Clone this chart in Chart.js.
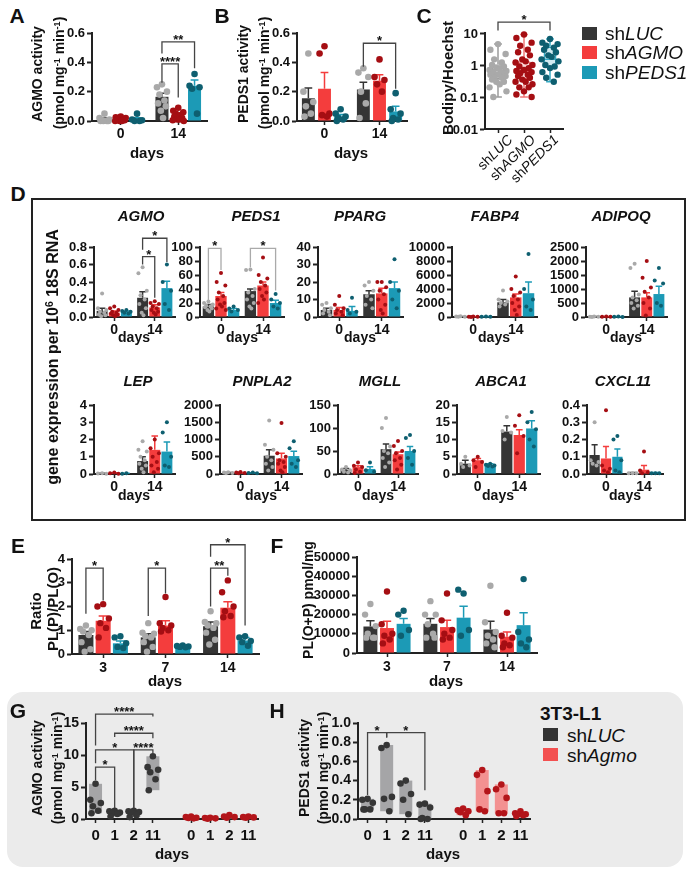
<!DOCTYPE html>
<html>
<head>
<meta charset="utf-8">
<script src="https://cdn.jsdelivr.net/npm/chart.js@4.4.1/dist/chart.umd.min.js"></script>
<style>
  body { margin: 0; width: 692px; height: 873px; position: relative; overflow: hidden; background: #fff;
         font-family: "Liberation Sans", Arial, Helvetica, sans-serif; color: #111; }
  canvas { position: absolute; }
  sup { font-size: 0.65em; vertical-align: 0.45em; line-height: 0; }
</style>
</head>
<body>
<div style="position:absolute;left:7px;top:692px;width:676px;height:175px;border-radius:16px;background:#ebebeb"></div>
<div style="position:absolute;left:31px;top:198px;width:655px;height:323px;box-sizing:border-box;border:2px solid #222"></div>
<script>
// ---- groups and colours
const groups = ['shLUC', 'shAGMO', 'shPEDS1'];
const barColors = ['#353535', '#f43d3d', '#1c9ab6'];
const dotColors = ['#a9a9a9', '#a50e13', '#0e5f70'];
const days2 = ['0', '14'];
const days3 = ['3', '7', '14'];

// ---- A  AGMO activity
const aTicks = [0, 0.2, 0.4, 0.6];
const aBar = [[0.01, 0.165], [0.01, 0.03], [0.012, 0.24]];
const aErr = [[0.02, 0.19], [0.015, 0.045], [0.022, 0.28]];
const aDots = [
  [[0.05, 0.02, 0.01, 0.005, 0, 0, 0, 0], [0.25, 0.23, 0.2, 0.18, 0.14, 0.12, 0.1, 0.07, 0.02]],
  [[0.03, 0.025, 0.02, 0.015, 0.01, 0.01, 0.005, 0, 0, 0], [0.09, 0.07, 0.06, 0.05, 0.04, 0.03, 0.02, 0.01, 0.01, 0.005, 0]],
  [[0.05, 0.01, 0.005, 0, 0], [0.32, 0.24, 0.23, 0.22, 0.05]]
];
const aBrackets = [
  { a: [0, 1], b: [1, 1], y: 0.39, ya: 0.26, yb: 0.16, t: '****' },
  { a: [0, 1], b: [2, 1], y: 0.54, ya: 0.46, yb: 0.36, t: '**' }
];

// ---- B  PEDS1 activity
const bTicks = [0, 0.2, 0.4, 0.6];
const bBar = [[0.155, 0.215], [0.22, 0.275], [0.03, 0.065]];
const bErr = [[0.225, 0.265], [0.33, 0.315], [0.045, 0.1]];
const bDots = [
  [[0.46, 0.2, 0.13, 0.1, 0.05, 0.03], [0.36, 0.33, 0.3, 0.2, 0.12, 0.02]],
  [[0.51, 0.46, 0.05, 0.04, 0.03], [0.42, 0.3, 0.28, 0.25, 0.2]],
  [[0.08, 0.05, 0.03, 0.02, 0.01, 0], [0.19, 0.08, 0.05, 0.02, 0.01, 0]]
];
const bBrackets = [{ a: [0, 1], b: [2, 1], y: 0.53, ya: 0.37, yb: 0.22, t: '*' }];

// ---- C  Bodipy/Hoechst (box plot, log axis)
const cTicks = [0.01, 0.1, 1, 10];
const cBox = [[0.35, 1.05], [0.35, 1.3], [0.8, 3.8]];
const cWhisk = [[0.1, 0.55, 4.5], [0.1, 0.6, 9], [0.3, 1.5, 6.5]];
const cDots = [
  [4.5, 3.0, 2.2, 1.5, 1.2, 1.0, 0.9, 0.8, 0.75, 0.7, 0.65, 0.6, 0.55, 0.5, 0.5, 0.45, 0.4, 0.4, 0.35, 0.3, 0.3, 0.25, 0.2, 0.15, 0.1],
  [9, 7, 5, 4, 3, 2.5, 2, 1.5, 1.3, 1.2, 1.0, 0.9, 0.8, 0.7, 0.65, 0.6, 0.55, 0.5, 0.45, 0.4, 0.35, 0.3, 0.3, 0.25, 0.2, 0.2, 0.15, 0.12, 0.1],
  [6.5, 5, 4.5, 4, 3.5, 3, 2.5, 2, 1.8, 1.5, 1.3, 1.0, 0.9, 0.8, 0.6, 0.5, 0.4, 0.3]
];
const cBrackets = [{ a: [0, 0], b: [0, 2], y: 22, ya: 12, yb: 12, t: '*' }];

// ---- D  gene expression
const agmoTicks = [0, 0.2, 0.4, 0.6, 0.8];
const agmoBar = [[0.07, 0.22], [0.05, 0.11], [0.06, 0.33]];
const agmoErr = [[0.1, 0.29], [0.07, 0.14], [0.07, 0.41]];
const agmoDots = [
  [[0.27, 0.1, 0.08, 0.06, 0.05, 0.03, 0.02, 0.01], [0.57, 0.5, 0.3, 0.25, 0.2, 0.15, 0.1, 0.05, 0.02]],
  [[0.12, 0.1, 0.08, 0.06, 0.05, 0.04, 0.03, 0.02, 0.01], [0.18, 0.16, 0.15, 0.12, 0.1, 0.08, 0.06, 0.05, 0.03]],
  [[0.08, 0.07, 0.06, 0.05, 0.04], [0.6, 0.4, 0.3, 0.15, 0.08]]
];
const agmoBrackets = [
  { a: [0, 1], b: [1, 1], y: 0.69, ya: 0.6, yb: 0.22, t: '*' },
  { a: [0, 1], b: [2, 1], y: 0.9, ya: 0.77, yb: 0.63, t: '*' }
];
const peds1Ticks = [0, 20, 40, 60, 80, 100];
const peds1Bar = [[15, 37], [30, 45], [10, 20]];
const peds1Err = [[18, 40], [35, 50], [12, 24]];
const peds1Dots = [
  [[22, 20, 18, 16, 15, 14, 12, 10, 8], [68, 67, 40, 35, 30, 25, 20, 15, 12]],
  [[63, 50, 45, 35, 30, 25, 20, 18, 15, 12, 10], [85, 60, 55, 50, 45, 40, 35, 30, 25, 20]],
  [[15, 12, 10, 8], [33, 25, 20, 15, 12]]
];
const peds1Brackets = [
  { a: [0, 0], b: [1, 0], y: 98, ya: 21, yb: 67, t: '*', c: '#aaa' },
  { a: [0, 1], b: [2, 1], y: 98, ya: 71, yb: 38, t: '*', c: '#aaa' }
];
const ppargTicks = [0, 10, 20, 30, 40];
const ppargBar = [[4, 13], [4, 13.5], [3.5, 16.5]];
const ppargErr = [[5, 15], [5.5, 16.5], [6, 20]];
const ppargDots = [
  [[8, 7, 5, 4, 3, 2, 1], [20, 18, 15, 12, 10, 7, 5]],
  [[12, 7, 5, 4, 3, 2, 1], [20, 20, 17, 15, 13, 10, 7, 4, 2]],
  [[11, 4, 3, 2], [33, 20, 15, 10, 5]]
];
const fabp4Ticks = [0, 2000, 4000, 6000, 8000, 10000];
const fabp4Bar = [[60, 2100], [50, 2800], [40, 3400]];
const fabp4Err = [[80, 2500], [70, 3300], [60, 5000]];
const fabp4Dots = [
  [[100, 60, 40, 20], [3800, 2500, 2200, 2000, 1800, 1500]],
  [[80, 50, 30, 10], [5800, 4000, 3500, 3000, 2500, 2000, 1500, 1000, 300]],
  [[60, 40, 20], [9000, 4000, 2500, 1500, 1000]]
];
const adipoqTicks = [0, 500, 1000, 1500, 2000, 2500];
const adipoqBar = [[10, 700], [10, 700], [10, 820]];
const adipoqErr = [[15, 920], [15, 870], [15, 1100]];
const adipoqDots = [
  [[20, 10, 5, 0], [1900, 1750, 800, 700, 600, 500, 400, 300]],
  [[20, 10, 5], [2000, 1400, 1050, 900, 700, 500, 300, 50]],
  [[20, 10, 0], [1750, 1300, 1200, 500, 400]]
];
const lepTicks = [0, 1, 2, 3, 4];
const lepBar = [[0.03, 0.75], [0.05, 1.4], [0.03, 1.3]];
const lepErr = [[0.04, 1.0], [0.07, 2.2], [0.04, 1.85]];
const lepDots = [
  [[0.05, 0.03, 0.02], [1.9, 1.4, 1.3, 1.0, 0.8, 0.6, 0.5, 0.3, 0.1]],
  [[0.08, 0.05, 0.02], [2.0, 1.5, 1.2, 1.0, 0.7, 0.5, 0.3, 0.1]],
  [[0.04, 0.02], [3.0, 2.4, 1.0, 0.5, 0.4]]
];
const pnpla2Ticks = [0, 500, 1000, 1500, 2000];
const pnpla2Bar = [[30, 530], [35, 450], [25, 520]];
const pnpla2Err = [[40, 700], [45, 600], [35, 660]];
const pnpla2Dots = [
  [[50, 40, 30, 20], [1550, 850, 700, 500, 400, 300, 200, 100]],
  [[60, 40, 30, 20], [1480, 600, 500, 400, 350, 300, 200, 100, 50]],
  [[40, 30, 20], [950, 750, 400, 300, 200]]
];
const mgllTicks = [0, 50, 100, 150];
const mgllBar = [[9, 54], [15, 43], [11, 50]];
const mgllErr = [[12, 65], [18, 48], [16, 60]];
const mgllDots = [
  [[15, 10, 8, 5, 3], [122, 100, 60, 50, 45, 35, 25, 15]],
  [[25, 18, 15, 10, 5, 2], [72, 61, 50, 45, 35, 30, 20, 10]],
  [[25, 8, 5], [85, 78, 50, 35, 20]]
];
const abca1Ticks = [0, 5, 10, 15, 20];
const abca1Bar = [[3, 12.3], [4, 11.3], [2.5, 13.2]];
const abca1Err = [[4, 14], [4.5, 12.8], [3, 15.4]];
const abca1Dots = [
  [[5, 3, 2.5, 2], [16.5, 12.5, 12, 10]],
  [[5, 4, 3.5, 2], [17, 14, 11, 6]],
  [[3, 2.7, 2.5, 2.3, 2.2], [18, 15, 13, 10, 8]]
];
const cxcl11Ticks = [0, 0.1, 0.2, 0.3, 0.4];
const cxcl11Bar = [[0.11, 0.005], [0.09, 0.025], [0.1, 0.005]];
const cxcl11Err = [[0.17, 0.008], [0.16, 0.05], [0.145, 0.008]];
const cxcl11Dots = [
  [[0.3, 0.08, 0.07, 0.06, 0.05], [0.005, 0.005, 0.005]],
  [[0.37, 0.05, 0.03, 0.02, 0.01], [0.13, 0.02, 0.01, 0.005]],
  [[0.22, 0.2, 0.08, 0.02, 0.01], [0.005, 0.005, 0.005]]
];

// ---- E  PL(P)/PL(O)
const eTicks = [0, 1, 2, 3, 4];
const eBar = [[0.8, 0.7, 1.17], [1.4, 1.2, 1.95], [0.45, 0.3, 0.57]];
const eErr = [[0.95, 0.85, 1.35], [1.6, 1.4, 2.2], [0.55, 0.35, 0.7]];
const eDots = [
  [[1.2, 1.05, 1.0, 0.95, 0.8, 0.5, 0.2, 0.1], [1.3, 0.9, 0.85, 0.75, 0.7, 0.5, 0.3, 0.1], [1.8, 1.35, 1.3, 1.2, 1.1, 0.9, 0.6, 0.4]],
  [[2.1, 2.0, 1.5, 1.3, 1.1, 0.7], [2.4, 1.3, 1.2, 1.1, 1.0, 0.95], [3.1, 2.6, 2.0, 1.8, 1.6, 1.55]],
  [[0.75, 0.7, 0.45, 0.3, 0.25], [0.36, 0.34, 0.32, 0.3, 0.28], [0.75, 0.7, 0.55, 0.5, 0.35]]
];
const eBrackets = [
  { a: [0, 0], b: [1, 0], y: 3.62, ya: 1.7, yb: 2.25, t: '*' },
  { a: [0, 1], b: [1, 1], y: 3.62, ya: 1.6, yb: 2.55, t: '*' },
  { a: [0, 2], b: [1, 2], y: 3.62, ya: 2.0, yb: 3.3, t: '**' },
  { a: [0, 2], b: [2, 2], y: 4.6, ya: 4.1, yb: 1.2, t: '*' }
];

// ---- F  PL(O+P)
const fTicks = [0, 10000, 20000, 30000, 40000, 50000];
const fBar = [[13800, 15200, 12200], [13000, 13500, 8500], [15200, 18400, 14500]];
const fErr = [[16800, 18000, 16500], [16500, 17000, 11000], [18000, 24300, 21000]];
const fDots = [
  [[25500, 20000, 14000, 10000, 8000, 8000, 8000], [27000, 20000, 20000, 15000, 10000, 8000, 8000], [35000, 16000, 11000, 9000, 7000, 5000, 3000]],
  [[32000, 15000, 10000, 9000, 7000, 5000], [31000, 17000, 12000, 10000, 8000, 7000], [21000, 9000, 8000, 5000, 4000, 3000]],
  [[22000, 20000, 12000, 9000], [31000, 33000, 12000, 9000], [38500, 11000, 7000, 5000, 3000]]
];

// ---- G / H  3T3-L1
const ghDays = ['0', '1', '2', '11', '', '0', '1', '2', '11'];
const gTicks = [0, 5, 10, 15];
const gLucRange = [[0.9, 5.5], [0.4, 1.3], [0.3, 1.3], [4.5, 9.8]];
const gAgmoRange = [[0.05, 0.4], [0.05, 0.2], [0.1, 0.6], [0.1, 0.4]];
const gLucDots = [[5.5, 3.0, 2.5, 2.0, 1.3, 0.9], [1.3, 1.2, 1.0, 0.9, 0.8, 0.4], [1.3, 1.2, 1.1, 1.0, 0.6, 0.3], [9.8, 8.1, 7.7, 7.3, 6.2, 4.5]];
const gAgmoDots = [[0.4, 0.3, 0.2, 0.15, 0.1], [0.2, 0.15, 0.1, 0.05], [0.6, 0.4, 0.3, 0.2], [0.4, 0.3, 0.25, 0.2]];
const gBrackets = [
  { a: [0, 0], b: [0, 1], y: 8.1, ya: 6.0, yb: 1.7, t: '*' },
  { a: [0, 0], b: [0, 2], y: 10.8, ya: 8.7, yb: 1.7, t: '*' },
  { a: [0, 2], b: [0, 3], y: 10.8, ya: 1.7, yb: 10.3, t: '****' },
  { a: [0, 1], b: [0, 3], y: 13.4, ya: 12.8, yb: 12.6, t: '****' },
  { a: [0, 0], b: [0, 3], y: 16.4, ya: 11.5, yb: 16.0, t: '****' }
];
const hTicks = [0, 0.2, 0.4, 0.6, 0.8, 1.0];
const hLucRange = [[0.1, 0.21], [0.08, 0.77], [0.05, 0.4], [0.0, 0.16]];
const hAgmoRange = [[0.04, 0.11], [0.08, 0.51], [0.06, 0.36], [0.03, 0.08]];
const hLucDots = [[0.21, 0.2, 0.17, 0.1, 0.1, 0.1], [0.77, 0.74, 0.23, 0.21, 0.08], [0.4, 0.37, 0.26, 0.2, 0.05], [0.16, 0.15, 0.12, 0.01, 0.0, 0.0]];
const hAgmoDots = [[0.11, 0.09, 0.08, 0.07, 0.04], [0.51, 0.46, 0.29, 0.1, 0.08], [0.36, 0.31, 0.22, 0.06, 0.06], [0.08, 0.06, 0.05, 0.05, 0.04, 0.03]];
const hBrackets = [
  { a: [0, 0], b: [0, 1], y: 0.9, ya: 0.25, yb: 0.85, t: '*' },
  { a: [0, 1], b: [0, 3], y: 0.9, ya: 0.85, yb: 0.3, t: '*' }
];

// ---------------------------------------------------------------
const FONT = '"Liberation Sans", Arial, Helvetica, sans-serif';
const AX = '#222';
const PAD_T = 60, PAD_R = 8, Y_W = 50, X_H = 26;
const JIT = [0, -0.9, 0.9, -0.45, 0.45, -0.7, 0.7, -0.2, 0.2, -1, 1, -0.55, 0.55];
Chart.defaults.font.family = FONT;
Chart.defaults.color = '#111';
Chart.defaults.animation = false;

// error bars, dots, box whiskers and significance brackets
const marks = {
  id: 'marks',
  afterDatasetsDraw(chart) {
    const mk = chart.canvas.mk || {};
    const ctx = chart.ctx, ys = chart.scales.y;
    const py = v => ys.getPixelForValue(v);
    ctx.save();
    chart.data.datasets.forEach((ds, i) => {
      const meta = chart.getDatasetMeta(i);
      meta.data.forEach((el, j) => {
        const v = ds.data[j];
        if (v == null) return;
        const bw = el.width;
        if (ds.err && ds.err[j] > v) {
          ctx.strokeStyle = ds.backgroundColor; ctx.lineWidth = 1.5;
          ctx.beginPath();
          ctx.moveTo(el.x, py(v)); ctx.lineTo(el.x, py(ds.err[j]));
          ctx.moveTo(el.x - bw * 0.3, py(ds.err[j])); ctx.lineTo(el.x + bw * 0.3, py(ds.err[j]));
          ctx.stroke();
        }
        if (ds.whisk) {
          const [lo, med, hi] = ds.whisk[j];
          ctx.strokeStyle = ds.borderColor[j]; ctx.lineWidth = 1.5;
          ctx.beginPath();
          ctx.moveTo(el.x, py(v[0])); ctx.lineTo(el.x, py(lo));
          ctx.moveTo(el.x, py(v[1])); ctx.lineTo(el.x, py(hi));
          ctx.moveTo(el.x - bw * 0.3, py(lo)); ctx.lineTo(el.x + bw * 0.3, py(lo));
          ctx.moveTo(el.x - bw * 0.3, py(hi)); ctx.lineTo(el.x + bw * 0.3, py(hi));
          ctx.moveTo(el.x - bw / 2, py(med)); ctx.lineTo(el.x + bw / 2, py(med));
          ctx.stroke();
        }
        if (ds.dots && ds.dots[j]) {
          ctx.fillStyle = Array.isArray(ds.dotColor) ? ds.dotColor[j] : ds.dotColor;
          ds.dots[j].forEach((d, k) => {
            const off = JIT[k % JIT.length] * bw / 2 * (mk.sp || 0.85);
            ctx.beginPath();
            ctx.arc(el.x + off, py(d), mk.r || 3, 0, Math.PI * 2);
            ctx.fill();
          });
        }
      });
    });
    (mk.br || []).forEach(b => {
      const x1 = chart.getDatasetMeta(b.a[0]).data[b.a[1]].x;
      const x2 = chart.getDatasetMeta(b.b[0]).data[b.b[1]].x;
      const yt = py(b.y);
      ctx.strokeStyle = b.c || '#444'; ctx.lineWidth = 1.3;
      ctx.beginPath();
      ctx.moveTo(x1, py(b.ya)); ctx.lineTo(x1, yt); ctx.lineTo(x2, yt); ctx.lineTo(x2, py(b.yb));
      ctx.stroke();
      ctx.fillStyle = '#111'; ctx.font = 'bold 13px ' + FONT;
      ctx.textAlign = 'center'; ctx.textBaseline = 'bottom';
      ctx.fillText(b.t, (x1 + x2) / 2, yt + 5);
    });
    ctx.restore();
  }
};

function yAxis(ticks, fmt, size) {
  return {
    type: 'linear', min: ticks[0], max: ticks[ticks.length - 1],
    afterFit: s => { s.width = Y_W; },
    afterBuildTicks: s => { s.ticks = ticks.map(v => ({ value: v })); },
    border: { display: true, color: AX, width: 2 },
    grid: { drawOnChartArea: false, drawTicks: true, tickLength: 5, tickColor: AX, tickWidth: 2 },
    ticks: { color: '#111', font: { size: size || 13, weight: 'bold' }, padding: 2, autoSkip: false,
      callback: typeof fmt === 'function' ? fmt : v => Number(v).toFixed(fmt) }
  };
}

function xAxis(size, pad, show) {
  return {
    afterFit: s => { s.height = X_H; },
    border: { display: true, color: AX, width: 2 },
    grid: { offset: false, drawOnChartArea: false, drawTicks: true, tickLength: 4, tickWidth: 1.5,
      tickColor: c => (c.tick && c.tick.label === '') ? 'rgba(0,0,0,0)' : AX },
    ticks: { display: show !== false, color: '#111', font: { size: size || 14, weight: 'bold' },
      padding: pad || 1, maxRotation: 0, autoSkip: false }
  };
}

// canvas placed so that the plot area lands on box = [left, right, topTick, zero]
function canvasAt(box, mk) {
  const [aL, aR, yT, yB] = box;
  const c = document.createElement('canvas');
  const left = aL - Y_W, top = yT - PAD_T;
  c.width = aR - left + PAD_R;
  c.height = yB - top + X_H;
  c.style.left = left + 'px';
  c.style.top = top + 'px';
  c.mk = mk || {};
  document.body.appendChild(c);
  return c;
}

function baseOptions(x, y) {
  return {
    responsive: false, animation: false,
    layout: { padding: { top: PAD_T, right: PAD_R, left: 0, bottom: 0 } },
    plugins: { legend: { display: false }, tooltip: { enabled: false } },
    scales: { x, y }
  };
}

function barChart(box, labels, bars, errs, dots, ticks, dec, o) {
  const c = canvasAt(box, { r: o.r, sp: o.sp, br: o.br });
  new Chart(c, {
    type: 'bar',
    data: {
      labels,
      datasets: bars.map((b, i) => ({
        label: groups[i], data: b, backgroundColor: barColors[i],
        err: errs[i], dots: dots[i], dotColor: dotColors[i],
        barPercentage: o.bp, categoryPercentage: o.cp
      }))
    },
    options: baseOptions(xAxis(o.xs, o.tp), yAxis(ticks, dec, o.ys)),
    plugins: [marks]
  });
}

function rangeChart(box, ranges, dots, ticks, dec, br) {
  const c = canvasAt(box, { r: 3.3, sp: 0.9, br });
  const none = [null, null, null, null, null];
  new Chart(c, {
    type: 'bar',
    data: {
      labels: ghDays,
      datasets: [
        { label: 'shLUC', data: [...ranges[0], ...none], backgroundColor: '#a5a5a7', dots: [...dots[0], ...none],
          dotColor: '#363636', grouped: false, barPercentage: 0.68, categoryPercentage: 1 },
        { label: 'shAgmo', data: [...none, ...ranges[1]], backgroundColor: '#f39191', dots: [...none, ...dots[1]],
          dotColor: '#b3151a', grouped: false, barPercentage: 0.68, categoryPercentage: 1 }
      ]
    },
    options: baseOptions(xAxis(15, 4), yAxis(ticks, dec, 14)),
    plugins: [marks]
  });
}

// ---- text helpers
function txt(html, x, y, size, o = {}) {
  const d = document.createElement('div');
  d.innerHTML = html;
  const tr = o.left ? 'translate(0,-50%)' : o.right ? 'translate(-100%,-50%)' :
    'translate(-50%,-50%)' + (o.rot ? ' rotate(-90deg)' : '');
  d.style.cssText = `position:absolute;left:${x}px;top:${y}px;font-size:${size}px;line-height:1;white-space:nowrap;` +
    `font-weight:${o.w || 'bold'};font-style:${o.i ? 'italic' : 'normal'};transform:${tr};`;
  document.body.appendChild(d);
}
function square(x, y, col) {
  const d = document.createElement('div');
  d.style.cssText = `position:absolute;left:${x}px;top:${y}px;width:15px;height:13px;background:${col}`;
  document.body.appendChild(d);
}
function slanted(html, endX, endY) {
  const d = document.createElement('div');
  d.innerHTML = html;
  d.style.cssText = `position:absolute;right:${692 - endX}px;top:${endY - 8}px;font-size:14px;line-height:16px;` +
    'white-space:nowrap;transform-origin:100% 50%;transform:rotate(-45deg);';
  document.body.appendChild(d);
}

// ---- charts
barChart([92, 207, 33, 121], days2, aBar, aErr, aDots, aTicks, 1, { bp: 0.8, cp: 0.85, r: 3.3, br: aBrackets });
barChart([297, 407, 33, 121], days2, bBar, bErr, bDots, bTicks, 1, { bp: 0.8, cp: 0.88, r: 3.3, br: bBrackets });

// C: log10 axis, values mapped through log10 onto a linear scale
const lg = v => Math.log10(v);
const cCanvas = canvasAt([485, 563, 33, 129], {
  r: 3.2, sp: 1.3, br: cBrackets.map(b => ({ ...b, y: lg(b.y), ya: lg(b.ya), yb: lg(b.yb) }))
});
const cY = yAxis(cTicks.map(lg), v => String(v), 13);
cY.ticks.display = false;
const cChart = new Chart(cCanvas, {
  type: 'bar',
  data: {
    labels: groups,
    datasets: [{
      data: cBox.map(r => r.map(lg)), whisk: cWhisk.map(r => r.map(lg)),
      dots: cDots.map(r => r.map(lg)), dotColor: dotColors,
      backgroundColor: ['rgba(160,160,160,0.35)', 'rgba(240,80,80,0.22)', 'rgba(30,155,185,0.2)'],
      borderColor: ['#9c9c9c', '#f07a7a', '#35aac4'], borderWidth: 1.5, borderSkipped: false,
      barPercentage: 0.5, categoryPercentage: 1
    }]
  },
  options: baseOptions(xAxis(14, 1, false), cY),
  plugins: [marks]
});
// log tick labels placed from the chart's own y scale
cTicks.forEach(t => {
  const ys = cChart.scales.y;
  txt(String(t), 435 + ys.left + ys.width - 7, -27 + ys.getPixelForValue(lg(t)), 13, { right: true });
});

const dOpt = br => ({ bp: 0.9, cp: 0.9, r: 2, sp: 0.85, br, xs: 14 });
barChart([94, 175, 247, 317], days2, agmoBar, agmoErr, agmoDots, agmoTicks, 1, dOpt(agmoBrackets));
barChart([200, 284, 247, 317], days2, peds1Bar, peds1Err, peds1Dots, peds1Ticks, 0, dOpt(peds1Brackets));
barChart([318, 403, 247, 317], days2, ppargBar, ppargErr, ppargDots, ppargTicks, 0, dOpt());
barChart([452, 537, 247, 317], days2, fabp4Bar, fabp4Err, fabp4Dots, fabp4Ticks, 0, dOpt());
barChart([586, 667, 247, 317], days2, adipoqBar, adipoqErr, adipoqDots, adipoqTicks, 0, dOpt());
barChart([94, 175, 405, 474], days2, lepBar, lepErr, lepDots, lepTicks, 0, dOpt());
barChart([220, 302, 405, 474], days2, pnpla2Bar, pnpla2Err, pnpla2Dots, pnpla2Ticks, 0, dOpt());
barChart([338, 418, 405, 474], days2, mgllBar, mgllErr, mgllDots, mgllTicks, 0, dOpt());
barChart([457, 540, 405, 474], days2, abca1Bar, abca1Err, abca1Dots, abca1Ticks, 0, dOpt());
barChart([587, 663, 405, 474], days2, cxcl11Bar, cxcl11Err, cxcl11Dots, cxcl11Ticks, 1, dOpt());

barChart([72, 259, 559, 654], days3, eBar, eErr, eDots, eTicks, 0, { bp: 0.87, cp: 0.83, r: 3.2, br: eBrackets, tp: 2 });
barChart([357, 537, 557, 653], days3, fBar, fErr, fDots, fTicks, 0, { bp: 0.84, cp: 0.83, r: 3.2, tp: 2 });

rangeChart([86, 258, 723, 819], [gLucRange, gAgmoRange], [gLucDots, gAgmoDots], gTicks, 0, gBrackets);
rangeChart([358, 530, 723, 819], [hLucRange, hAgmoRange], [hLucDots, hAgmoDots], hTicks, 1, hBrackets);

// ---- text
const unit = '(pmol mg<sup>-1</sup> min<sup>-1</sup>)';

[['A', 17, 15], ['B', 222, 15], ['C', 424, 15], ['D', 18, 193], ['E', 18, 545], ['F', 277, 545], ['G', 18, 710], ['H', 277, 710]]
  .forEach(([l, x, y]) => txt(l, x, y, 21));

txt('AGMO activity', 37, 74, 14, { rot: true });
txt(unit, 59, 73, 14, { rot: true });
txt('days', 147, 152, 15);
txt('PEDS1 activity', 243, 74, 14, { rot: true });
txt(unit, 264, 73, 14, { rot: true });
txt('days', 351, 152, 15);
txt('Bodipy/Hoechst', 447, 78, 15, { rot: true });
slanted('sh<i>LUC</i>', 510, 137);
slanted('sh<i>AGMO</i>', 533, 137);
slanted('sh<i>PEDS1</i>', 556, 137);
['sh<i>LUC</i>', 'sh<i>AGMO</i>', 'sh<i>PEDS1</i>'].forEach((h, i) => {
  const y = [33, 52, 72][i];
  square(582, y - 6, barColors[i]);
  txt(h, 605, y, 19, { left: true, w: 'normal' });
});

txt('gene expression per 10<sup>6</sup> 18S RNA', 53, 357, 16, { rot: true });
[['AGMO', 141, 215], ['PEDS1', 256, 215], ['PPARG', 360, 215], ['FABP4', 495, 215], ['ADIPOQ', 621, 215],
 ['LEP', 138, 380], ['PNPLA2', 262, 380], ['MGLL', 380, 380], ['ABCA1', 501, 380], ['CXCL11', 623, 380]]
  .forEach(([g, x, y]) => txt(g, x, y, 15, { i: true }));
[[134, 337], [242, 337], [360, 337], [494, 337], [626, 337], [134, 495], [261, 495], [378, 495], [498, 495], [625, 495]]
  .forEach(([x, y]) => txt('days', x, y, 14));

txt('Ratio', 35, 611, 15, { rot: true });
txt('PL(P)/PL(O)', 52, 609, 15, { rot: true });
txt('days', 165, 680, 15);
txt('PL(O+P) pmol/mg', 308, 600, 14, { rot: true });
txt('days', 446, 680, 15);

txt('AGMO activity', 37, 768, 14, { rot: true });
txt(unit, 57, 768, 14, { rot: true });
txt('days', 172, 853, 15);
txt('PEDS1 activity', 304, 768, 14, { rot: true });
txt(unit, 323, 768, 14, { rot: true });
txt('days', 443, 853, 15);
txt('3T3-L1', 540, 713, 19, { left: true });
square(543, 728, '#333333');
txt('sh<i>LUC</i>', 567, 735, 19, { left: true, w: 'normal' });
square(543, 748, '#f35050');
txt('sh<i>Agmo</i>', 567, 755, 19, { left: true, w: 'normal' });
</script>
</body>
</html>
